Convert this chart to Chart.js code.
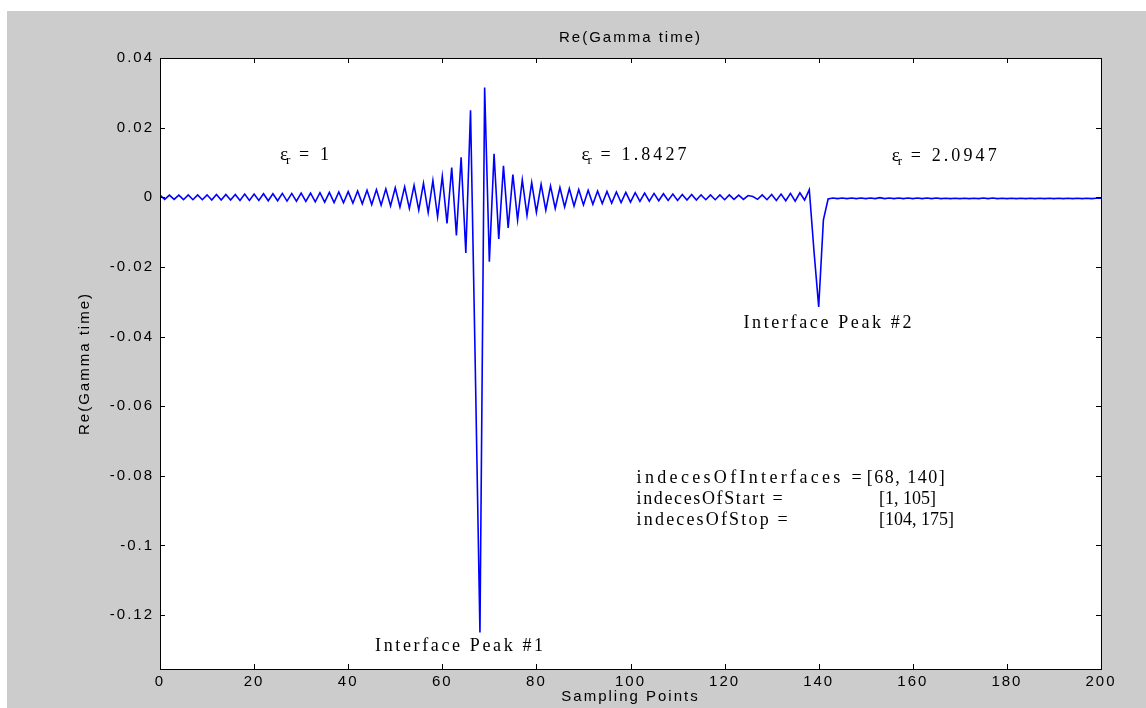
<!DOCTYPE html>
<html>
<head>
<meta charset="utf-8">
<title>Re(Gamma time)</title>
<script src="https://cdn.jsdelivr.net/npm/chart.js@4/dist/chart.umd.min.js"></script>
<style>
  html, body { margin: 0; padding: 0; background: #fff; }
</style>
</head>
<body>
<canvas id="chart" width="1146" height="708"></canvas>
<script>
// Re(Gamma) per sampling point, 0..200
const gamma = [
  0.0006, -0.0006, 0.0006, -0.0006, 0.0006, -0.0007, 0.0007, -0.0007, 0.0007, -0.0007,
  0.0007, -0.0008, 0.0008, -0.0008, 0.0008, -0.0008, 0.0008, -0.0009, 0.0009, -0.0009,
  0.0009, -0.0009, 0.0010, -0.0010, 0.0010, -0.0010, 0.0011, -0.0011, 0.0011, -0.0011,
  0.0012, -0.0012, 0.0012, -0.0013, 0.0013, -0.0014, 0.0014, -0.0015, 0.0015, -0.0016,
  0.0016, -0.0017, 0.0018, -0.0019, 0.0020, -0.0021, 0.0022, -0.0023, 0.0024, -0.0025,
  0.0027, -0.0028, 0.0030, -0.0032, 0.0034, -0.0037, 0.0040, -0.0044, 0.0048, -0.0056,
  0.0060, -0.0075, 0.0085, -0.0110, 0.0115, -0.0160, 0.0250, -0.0480, -0.1250, 0.0315,
  -0.0185, 0.0125, -0.0120, 0.0090, -0.0088, 0.0065, -0.0065, 0.0050, -0.0052, 0.0042,
  -0.0043, 0.0037, -0.0037, 0.0032, -0.0032, 0.0028, -0.0028, 0.0025, -0.0025, 0.0022,
  -0.0022, 0.0020, -0.0020, 0.0018, -0.0018, 0.0017, -0.0017, 0.0015, -0.0015, 0.0014,
  -0.0014, 0.0013, -0.0012, 0.0012, -0.0011, 0.0011, -0.0010, 0.0010, -0.0009, 0.0009,
  -0.0009, 0.0008, -0.0008, 0.0008, -0.0008, 0.0007, -0.0007, 0.0007, -0.0007, 0.0007,
  -0.0007, 0.0007, -0.0006, 0.0006, -0.0006, 0.0005, 0.0002, -0.0006, 0.0007, -0.0007,
  0.0008, -0.0009, 0.0009, -0.0010, 0.0011, -0.0011, 0.0013, -0.0008, 0.0022, -0.0155,
  -0.0315, -0.0065, -0.0005, -0.0002, -0.0004, -0.0002, -0.0004, -0.0002, -0.0004, -0.0002,
  -0.0004, -0.0002, -0.0004, -0.0001, -0.0004, -0.0002, -0.0004, -0.0002, -0.0004, -0.0002,
  -0.0004, -0.0002, -0.0004, -0.0002, -0.0004, -0.0002, -0.0004, -0.0003, -0.0004, -0.0003,
  -0.0004, -0.0003, -0.0004, -0.0003, -0.0004, -0.0002, -0.0004, -0.0002, -0.0004, -0.0003,
  -0.0004, -0.0003, -0.0004, -0.0003, -0.0004, -0.0003, -0.0004, -0.0003, -0.0004, -0.0003,
  -0.0004, -0.0003, -0.0004, -0.0003, -0.0004, -0.0003, -0.0004, -0.0003, -0.0004, -0.0003,
  -0.0003
];

const xTicks = [0, 20, 40, 60, 80, 100, 120, 140, 160, 180, 200];
const yTicks = [0.04, 0.02, 0, -0.02, -0.04, -0.06, -0.08, -0.1, -0.12];
const yTickLabels = ["0.04", "0.02", "0", "-0.02", "-0.04", "-0.06", "-0.08", "-0.1", "-0.12"];

// relative permittivity of each layer
const layerEps = ["1", "1.8427", "2.0947"];

const infoLeft = ["indecesOfInterfaces =", "indecesOfStart =", "indecesOfStop ="];
const infoRight = ["[68, 140]", "[1, 105]", "[104, 175]"];

const sansFont = "'Liberation Sans', Arial, sans-serif";
const serifFont = "'Liberation Serif', 'Times New Roman', serif";

// where the text annotations sit: anchor in (sample, value), w = rendered width in px
const epsLayout = [{ x: 25.5, y: 0.0121, w: 6 }, { x: 89.6, y: 0.0121, w: 65 }, { x: 155.5, y: 0.0118, w: 65 }];
const peakLayout = [{ x: 45.7, y: -0.1289, w: 168 }, { x: 124.0, y: -0.0362, w: 168 }];
const infoLayout = [
  { y: -0.0806, lx: 101.3, lw: 225, rx: 150.2, rw: 78 },
  { y: -0.0867, lx: 101.3, lw: 146, rx: 152.8, rw: 54 },
  { y: -0.0927, lx: 101.3, lw: 151, rx: 152.8, rw: 67 },
];

// the old MATLAB fonts render wide, so spread letters out to a given width
function fitText(ctx, text, x, y, width) {
  ctx.letterSpacing = "0px";
  const w = ctx.measureText(text).width;
  const n = [...text].length;
  ctx.letterSpacing = n > 1 ? `${Math.max(0, (width - w) / (n - 1))}px` : "0px";
  ctx.fillText(text, x, y);
}

const matlabFrame = {
  id: "matlabFrame",
  beforeDraw(chart) {
    const { ctx, chartArea: a } = chart;
    ctx.save();
    ctx.fillStyle = "#fff";
    ctx.fillRect(0, 0, chart.width, chart.height);
    ctx.fillStyle = "#cccccc";
    ctx.fillRect(7, 11, chart.width - 7, chart.height - 11);
    ctx.fillStyle = "#fff";
    ctx.fillRect(a.left, a.top, a.right - a.left, a.bottom - a.top);
    ctx.restore();
    ctx.letterSpacing = "2px";
  },
  afterDatasetsDraw(chart) {
    const { ctx, chartArea: a, scales } = chart;
    ctx.save();
    ctx.strokeStyle = "#000";
    ctx.lineWidth = 1;
    ctx.strokeRect(a.left + 0.5, a.top + 0.5, a.right - a.left, a.bottom - a.top);
    ctx.beginPath();
    xTicks.forEach((v) => {
      const px = Math.round(scales.x.getPixelForValue(v)) + 0.5;
      ctx.moveTo(px, a.bottom);
      ctx.lineTo(px, a.bottom - 5);
      ctx.moveTo(px, a.top);
      ctx.lineTo(px, a.top + 5);
    });
    yTicks.forEach((v) => {
      const py = Math.round(scales.y.getPixelForValue(v)) + 0.5;
      ctx.moveTo(a.left, py);
      ctx.lineTo(a.left + 5, py);
      ctx.moveTo(a.right, py);
      ctx.lineTo(a.right - 5, py);
    });
    ctx.stroke();
    ctx.restore();
  },
  afterDraw(chart) {
    const { ctx, scales } = chart;
    const at = (x, y) => [scales.x.getPixelForValue(x), scales.y.getPixelForValue(y)];
    const serif = `18px ${serifFont}`;
    ctx.save();
    ctx.fillStyle = "#000";
    ctx.textBaseline = "middle";
    ctx.textAlign = "left";

    layerEps.forEach((val, i) => {
      const p = epsLayout[i];
      const [px, py] = at(p.x, p.y);
      ctx.letterSpacing = "0px";
      ctx.font = `19px ${serifFont}`;
      ctx.fillText("ε", px, py);
      ctx.font = `13px ${serifFont}`;
      ctx.fillText("r", px + 6, py + 5);
      ctx.font = serif;
      ctx.fillText("=", px + 19, py);
      fitText(ctx, val, px + 40, py, p.w);
    });

    ctx.font = serif;
    ["Interface Peak #1", "Interface Peak #2"].forEach((t, i) => {
      const p = peakLayout[i];
      const [px, py] = at(p.x, p.y);
      fitText(ctx, t, px, py, p.w);
    });

    infoLeft.forEach((t, i) => {
      const p = infoLayout[i];
      let [px, py] = at(p.lx, p.y);
      fitText(ctx, t, px, py, p.lw);
      [px, py] = at(p.rx, p.y);
      fitText(ctx, infoRight[i], px, py, p.rw);
    });
    ctx.restore();
  },
};

new Chart(document.getElementById("chart"), {
  type: "line",
  data: {
    datasets: [{
      data: gamma.map((y, i) => ({ x: i, y })),
      borderColor: "#0000ff",
      borderWidth: 1.6,
      pointRadius: 0,
      tension: 0,
      fill: false,
    }],
  },
  options: {
    responsive: false,
    animation: false,
    devicePixelRatio: 1,
    layout: { padding: { left: 0, right: 45, top: 0, bottom: 0 } },
    plugins: {
      legend: { display: false },
      tooltip: { enabled: false },
      title: {
        display: true,
        fullSize: false,
        text: "Re(Gamma time)",
        color: "#000",
        font: { family: sansFont, size: 15, weight: "normal" },
        padding: { top: 29, bottom: 11 },
      },
    },
    scales: {
      x: {
        type: "linear",
        min: 0,
        max: 200,
        afterFit: (s) => { s.height = 39; },
        afterBuildTicks: (s) => { s.ticks = xTicks.map((v) => ({ value: v })); },
        grid: { display: false, drawTicks: false },
        border: { display: false },
        ticks: {
          color: "#000",
          padding: 4,
          maxRotation: 0,
          autoSkip: false,
          font: { family: sansFont, size: 15 },
        },
        title: {
          display: true,
          text: "Sampling Points",
          color: "#000",
          font: { family: sansFont, size: 15 },
          padding: { top: 0, bottom: 2 },
        },
      },
      y: {
        type: "linear",
        min: -0.1355,
        max: 0.04,
        afterFit: (s) => { s.width = 160; },
        afterBuildTicks: (s) => { s.ticks = yTicks.map((v) => ({ value: v })); },
        grid: { display: false, drawTicks: false },
        border: { display: false },
        ticks: {
          color: "#000",
          padding: 6,
          autoSkip: false,
          font: { family: sansFont, size: 15 },
          callback: (v) => yTickLabels[yTicks.indexOf(v)] ?? "",
        },
        title: {
          display: true,
          text: "Re(Gamma time)",
          color: "#000",
          font: { family: sansFont, size: 15 },
          padding: { top: 76, bottom: 0 },
        },
      },
    },
  },
  plugins: [matlabFrame],
});
</script>
</body>
</html>
